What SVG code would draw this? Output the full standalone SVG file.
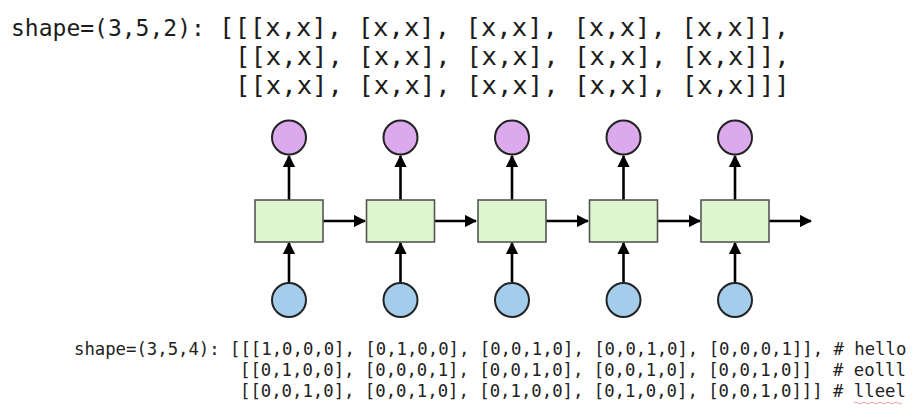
<svg xmlns="http://www.w3.org/2000/svg" width="924" height="410" viewBox="0 0 924 410">
<style>
.top{font-family:"DejaVu Sans Mono","Liberation Mono",monospace;font-size:25.6px;fill:#1c1c1c}
.pre{font-family:"DejaVu Sans Mono","Liberation Mono",monospace;font-size:23px;fill:#1c1c1c}
.bot{font-family:"DejaVu Sans Mono","Liberation Mono",monospace;font-size:17.3px;fill:#222}
.cell{fill:#dff5cf;stroke:#555;stroke-width:1.6}
.out{fill:#dcaaec;stroke:#222;stroke-width:2}
.in{fill:#a3cdea;stroke:#222;stroke-width:2}
.conn line{stroke:#000;stroke-width:2.6}
</style>
<defs>
<marker id="ah" viewBox="0 0 10 10" refX="9" refY="5" markerWidth="4.8" markerHeight="4.8" orient="auto" markerUnits="strokeWidth">
<path d="M0,0 L10,5 L0,10 z" fill="#000"/>
</marker>
</defs>
<rect width="924" height="410" fill="#fff"/>
<g id="text-top">
<text class="pre" x="11" y="36">shape=(3,5,2):</text>
<text class="top" x="219" y="36" xml:space="preserve">[[[x,x], [x,x], [x,x], [x,x], [x,x]],</text>
<text class="top" x="235" y="65" xml:space="preserve">[[x,x], [x,x], [x,x], [x,x], [x,x]],</text>
<text class="top" x="235" y="94" xml:space="preserve">[[x,x], [x,x], [x,x], [x,x], [x,x]]]</text>
</g>
<g class="conn" id="connectors">
<line x1="289" y1="200" x2="289" y2="156" marker-end="url(#ah)"/>
<line x1="400.5" y1="200" x2="400.5" y2="156" marker-end="url(#ah)"/>
<line x1="512" y1="200" x2="512" y2="156" marker-end="url(#ah)"/>
<line x1="623.5" y1="200" x2="623.5" y2="156" marker-end="url(#ah)"/>
<line x1="735" y1="200" x2="735" y2="156" marker-end="url(#ah)"/>
<line x1="289" y1="282" x2="289" y2="243" marker-end="url(#ah)"/>
<line x1="400.5" y1="282" x2="400.5" y2="243" marker-end="url(#ah)"/>
<line x1="512" y1="282" x2="512" y2="243" marker-end="url(#ah)"/>
<line x1="623.5" y1="282" x2="623.5" y2="243" marker-end="url(#ah)"/>
<line x1="735" y1="282" x2="735" y2="243" marker-end="url(#ah)"/>
<line x1="323" y1="221" x2="365" y2="221" marker-end="url(#ah)"/>
<line x1="435" y1="221" x2="476" y2="221" marker-end="url(#ah)"/>
<line x1="546" y1="221" x2="588" y2="221" marker-end="url(#ah)"/>
<line x1="658" y1="221" x2="700" y2="221" marker-end="url(#ah)"/>
<line x1="769" y1="221" x2="811" y2="221" marker-end="url(#ah)"/>
</g>
<g id="cell1"><rect class="cell" x="255" y="200" width="68" height="42"/></g>
<g id="cell2"><rect class="cell" x="366.5" y="200" width="68" height="42"/></g>
<g id="cell3"><rect class="cell" x="478" y="200" width="68" height="42"/></g>
<g id="cell4"><rect class="cell" x="589.5" y="200" width="68" height="42"/></g>
<g id="cell5"><rect class="cell" x="701" y="200" width="68" height="42"/></g>
<g id="out1"><circle class="out" cx="289" cy="137.5" r="17"/></g>
<g id="out2"><circle class="out" cx="400.5" cy="137.5" r="17"/></g>
<g id="out3"><circle class="out" cx="512" cy="137.5" r="17"/></g>
<g id="out4"><circle class="out" cx="623.5" cy="137.5" r="17"/></g>
<g id="out5"><circle class="out" cx="735" cy="137.5" r="17"/></g>
<g id="in1"><circle class="in" cx="289" cy="300" r="17"/></g>
<g id="in2"><circle class="in" cx="400.5" cy="300" r="17"/></g>
<g id="in3"><circle class="in" cx="512" cy="300" r="17"/></g>
<g id="in4"><circle class="in" cx="623.5" cy="300" r="17"/></g>
<g id="in5"><circle class="in" cx="735" cy="300" r="17"/></g>
<g id="text-bottom">
<text class="bot" x="74" y="355" xml:space="preserve">shape=(3,5,4): [[[1,0,0,0], [0,1,0,0], [0,0,1,0], [0,0,1,0], [0,0,0,1]], # hello</text>
<text class="bot" x="240" y="376" xml:space="preserve">[[0,1,0,0], [0,0,0,1], [0,0,1,0], [0,0,1,0], [0,0,1,0]]  # eolll</text>
<text class="bot" x="240" y="397" xml:space="preserve">[[0,0,1,0], [0,0,1,0], [0,1,0,0], [0,1,0,0], [0,0,1,0]]] # lleel</text>
<path d="M854,403 q2,-2 4,0 t4,0 t4,0 t4,0 t4,0 t4,0 t4,0 t4,0 t4,0 t4,0 t4,0 t4,0" fill="none" stroke="#f0a0a0" stroke-width="1"/>
</g>
</svg>
